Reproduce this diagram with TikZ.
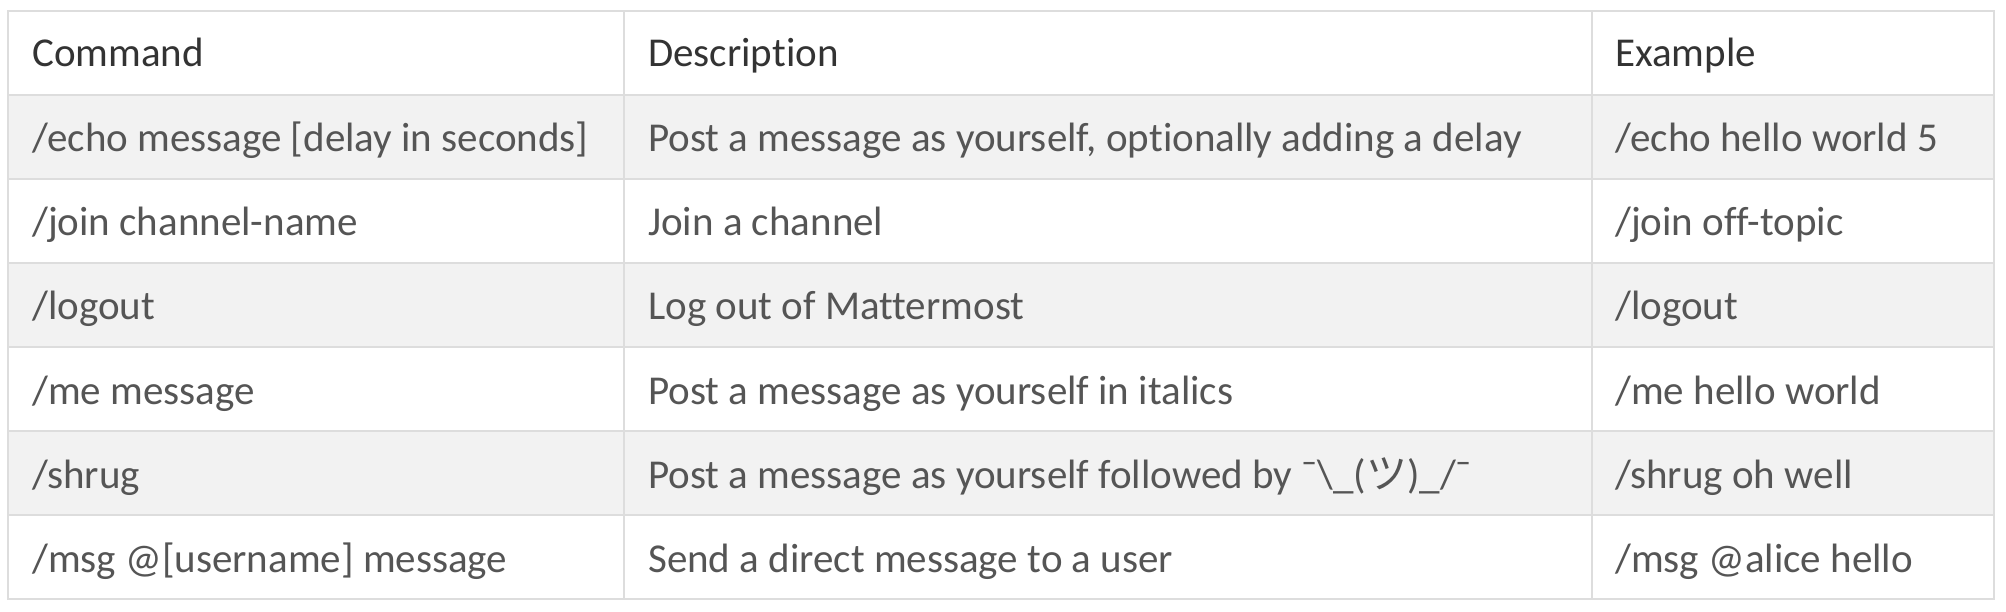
\documentclass[tikz,border=0pt]{standalone}
\usepackage{fontspec}
\setmainfont{Carlito}[Ligatures={NoCommon}]
\newfontfamily\cjkfont{Noto Sans CJK JP}
\definecolor{gridline}{HTML}{DDDDDD}
\definecolor{rowgray}{HTML}{F2F2F2}
\definecolor{headtext}{HTML}{333333}
\definecolor{bodytext}{HTML}{555555}
\begin{document}
\begin{tikzpicture}[x=1pt,y=-1pt,
  cell/.style={anchor=base west,inner sep=0pt,font=\fontsize{41}{49}\selectfont,text=bodytext},
  headcell/.style={cell,text=headtext},
  grid/.style={draw=gridline,line width=2pt}]
\useasboundingbox (0,0) rectangle (2006,612);
\fill[white] (0,0) rectangle (2006,612);
% striped rows
\fill[rowgray] (8,95) rectangle (1994,179);
\fill[rowgray] (8,263) rectangle (1994,347);
\fill[rowgray] (8,431) rectangle (1994,515);
% grid
\foreach \yy in {95,179,263,347,431,515} \draw[grid] (8,\yy) -- (1994,\yy);
\draw[grid] (624,11) -- (624,599);
\draw[grid] (1592,11) -- (1592,599);
\draw[grid] (8,11) rectangle (1994,599);
% header
\node[headcell] (h1) at (32,67) {Command};
\node[headcell] (h2) at (648,67) {Description};
\node[headcell] (h3) at (1615,67) {Example};
% rows
\node[cell] (c11) at (32,152) {/echo message [delay in seconds]};
\node[cell] (c12) at (648,152) {Post a message as yourself, optionally adding a delay};
\node[cell] (c13) at (1615,152) {/echo hello world 5};
\node[cell] (c21) at (32,236) {/join channel-name};
\node[cell] (c22) at (648,236) {Join a channel};
\node[cell] (c23) at (1615,236) {/join off-topic};
\node[cell] (c31) at (32,320) {/logout};
\node[cell] (c32) at (648,320) {Log out of Mattermost};
\node[cell] (c33) at (1615,320) {/logout};
\node[cell] (c41) at (32,404) {/me message};
\node[cell] (c42) at (648,404) {Post a message as yourself in italics};
\node[cell] (c43) at (1615,404) {/me hello world};
\node[cell] (c51) at (32,488) {/shrug};
\node[cell] (c52) at (648,488) {Post a message as yourself followed by ¯\textbackslash\_({\cjkfont ツ})\_/¯};
\node[cell] (c53) at (1615,488) {/shrug oh well};
\node[cell] (c61) at (32,572) {/msg @[username] message};
\node[cell] (c62) at (648,572) {Send a direct message to a user};
\node[cell] (c63) at (1615,572) {/msg @alice hello};
\end{tikzpicture}
\end{document}
